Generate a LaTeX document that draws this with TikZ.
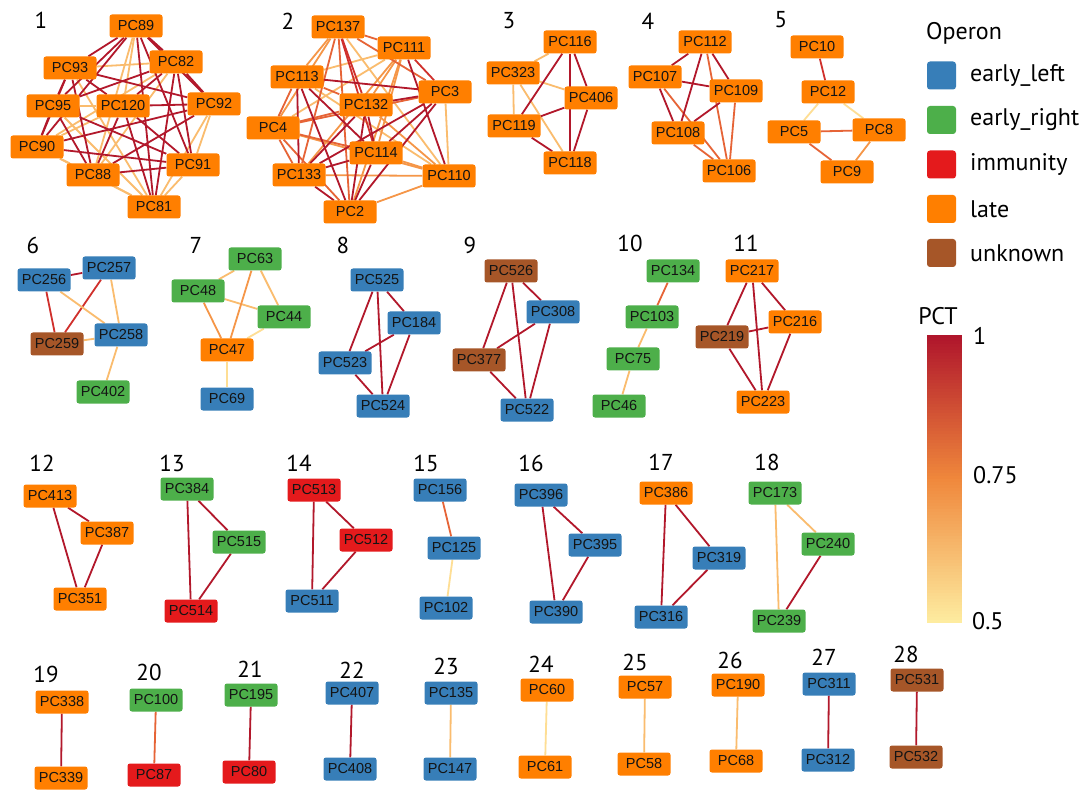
\documentclass[tikz,border=0pt]{standalone}
\usepackage{fontspec}
\setmainfont{PT Sans}
\newfontfamily\arialf{Liberation Sans}
\usetikzlibrary{backgrounds}
\definecolor{cEL}{RGB}{55,126,184}
\definecolor{cER}{RGB}{77,175,74}
\definecolor{cIM}{RGB}{228,26,28}
\definecolor{cLA}{RGB}{255,127,0}
\definecolor{cUN}{RGB}{166,86,40}
\definecolor{k10}{RGB}{178,24,43}
\definecolor{k9}{RGB}{208,48,44}
\definecolor{k8}{RGB}{230,100,55}
\definecolor{k7}{RGB}{245,150,72}
\definecolor{k6}{RGB}{250,188,110}
\definecolor{k5}{RGB}{254,222,148}
\newcommand\mkpc[4]{\node[#1] (p#2) at (#3,#4) {PC#2};}
\newcommand\lks[2]{\foreach \a/\b in {#2}{\draw[#1] (p\a) -- (p\b);}}
\begin{document}
\begin{tikzpicture}[x=1pt,y=-1pt,
  pcn/.style={rectangle, rounded corners=2.5pt, minimum width=53pt, minimum height=23pt, inner sep=0pt, font=\arialf\fontsize{14.5}{15}\selectfont, text=black!92},
  el/.style={pcn, fill=cEL}, er/.style={pcn, fill=cER}, im/.style={pcn, fill=cIM},
  la/.style={pcn, fill=cLA}, un/.style={pcn, fill=cUN},
  num/.style={font=\fontsize{23}{26}\selectfont, inner sep=0pt, text=black},
  leg/.style={font=\fontsize{24}{28}\selectfont, inner sep=0pt, anchor=west, text=black},
  sw/.style={rounded corners=3pt, minimum width=29pt, minimum height=28pt, inner sep=0pt},
  ed/.style={line width=1.8pt},
  q10/.style={ed, draw=k10}, q9/.style={ed, draw=k9}, q8/.style={ed, draw=k8},
  q7/.style={ed, draw=k7}, q6/.style={ed, draw=k6}, q5/.style={ed, draw=k5}]
\useasboundingbox (0,0) rectangle (1092,791);
% cluster numbers
\node[num] (t1) at (41,20) {1};
\node[num] (t2) at (288,21) {2};
\node[num] (t3) at (509,21) {3};
\node[num] (t4) at (648,21) {4};
\node[num] (t5) at (781,20) {5};
\node[num] (t6) at (33,245) {6};
\node[num] (t7) at (196,245) {7};
\node[num] (t8) at (343,245) {8};
\node[num] (t9) at (470,245) {9};
\node[num] (t10) at (630,243) {10};
\node[num] (t11) at (746,243) {11};
\node[num] (t12) at (42,463) {12};
\node[num] (t13) at (172,463) {13};
\node[num] (t14) at (299,463) {14};
\node[num] (t15) at (426,463) {15};
\node[num] (t16) at (531,463) {16};
\node[num] (t17) at (661,462) {17};
\node[num] (t18) at (767,462) {18};
\node[num] (t19) at (46,674) {19};
\node[num] (t20) at (149,672) {20};
\node[num] (t21) at (250,669) {21};
\node[num] (t22) at (352,670) {22};
\node[num] (t23) at (446,666) {23};
\node[num] (t24) at (541,664) {24};
\node[num] (t25) at (635,662) {25};
\node[num] (t26) at (730,660) {26};
\node[num] (t27) at (824,657) {27};
\node[num] (t28) at (906,654) {28};
% cluster 1
\mkpc{la}{89}{136}{26}
\mkpc{la}{93}{70}{68}
\mkpc{la}{82}{176}{62}
\mkpc{la}{95}{53}{106}
\mkpc{la}{120}{123}{106}
\mkpc{la}{92}{214}{104}
\mkpc{la}{90}{37}{147}
\mkpc{la}{91}{193}{165}
\mkpc{la}{88}{93}{175}
\mkpc{la}{81}{154}{207}
% cluster 2
\mkpc{la}{137}{338}{27}
\mkpc{la}{111}{404}{48}
\mkpc{la}{113}{297}{77}
\mkpc{la}{3}{445}{92}
\mkpc{la}{132}{366}{105}
\mkpc{la}{4}{273}{128}
\mkpc{la}{114}{376}{153}
\mkpc{la}{133}{299}{175}
\mkpc{la}{110}{449}{176}
\mkpc{la}{2}{350}{212}
% cluster 3
\mkpc{la}{116}{570}{42}
\mkpc{la}{323}{513}{73}
\mkpc{la}{406}{591}{98}
\mkpc{la}{119}{514}{126}
\mkpc{la}{118}{570}{163}
% cluster 4
\mkpc{la}{112}{705}{42}
\mkpc{la}{107}{655}{77}
\mkpc{la}{109}{736}{91}
\mkpc{la}{108}{678}{133}
\mkpc{la}{106}{729}{171}
% cluster 5
\mkpc{la}{10}{817}{47}
\mkpc{la}{12}{828}{92}
\mkpc{la}{5}{794}{132}
\mkpc{la}{8}{879}{130}
\mkpc{la}{9}{847}{172}
% cluster 6
\mkpc{el}{256}{44}{280}
\mkpc{el}{257}{109}{268}
\mkpc{el}{258}{121}{335}
\mkpc{un}{259}{57}{344}
\mkpc{er}{402}{103}{392}
% cluster 7
\mkpc{er}{63}{255}{259}
\mkpc{er}{48}{198}{291}
\mkpc{er}{44}{284}{317}
\mkpc{la}{47}{227}{350}
\mkpc{el}{69}{227}{399}
% cluster 8
\mkpc{el}{525}{377}{280}
\mkpc{el}{184}{414}{323}
\mkpc{el}{523}{345}{363}
\mkpc{el}{524}{383}{406}
% cluster 9
\mkpc{un}{526}{511}{271}
\mkpc{el}{308}{553}{312}
\mkpc{un}{377}{479}{360}
\mkpc{el}{522}{527}{410}
% cluster 10
\mkpc{er}{134}{673}{271}
\mkpc{er}{103}{652}{317}
\mkpc{er}{75}{633}{359}
\mkpc{er}{46}{619}{406}
% cluster 11
\mkpc{la}{217}{752}{271}
\mkpc{la}{216}{795}{322}
\mkpc{un}{219}{722}{337}
\mkpc{la}{223}{763}{402}
% cluster 12
\mkpc{la}{413}{50}{496}
\mkpc{la}{387}{107}{533}
\mkpc{la}{351}{80}{599}
% cluster 13
\mkpc{er}{384}{187}{489}
\mkpc{er}{515}{239}{542}
\mkpc{im}{514}{191}{611}
% cluster 14
\mkpc{im}{513}{314}{490}
\mkpc{im}{512}{366}{540}
\mkpc{el}{511}{312}{601}
% cluster 15
\mkpc{el}{156}{440}{490}
\mkpc{el}{125}{454}{548}
\mkpc{el}{102}{446}{608}
% cluster 16
\mkpc{el}{396}{541}{495}
\mkpc{el}{395}{595}{545}
\mkpc{el}{390}{556}{612}
% cluster 17
\mkpc{la}{386}{666}{493}
\mkpc{el}{319}{719}{558}
\mkpc{el}{316}{661}{617}
% cluster 18
\mkpc{er}{173}{775}{493}
\mkpc{er}{240}{828}{544}
\mkpc{er}{239}{779}{621}
% bottom row
\mkpc{la}{338}{62}{702}
\mkpc{la}{339}{61}{778}
\mkpc{er}{100}{156}{700}
\mkpc{im}{87}{154}{775}
\mkpc{er}{195}{251}{695}
\mkpc{im}{80}{249}{772}
\mkpc{el}{407}{352}{693}
\mkpc{el}{408}{350}{769}
\mkpc{el}{135}{451}{693}
\mkpc{el}{147}{450}{769}
\mkpc{la}{60}{547}{690}
\mkpc{la}{61}{545}{767}
\mkpc{la}{57}{645}{687}
\mkpc{la}{58}{644}{764}
\mkpc{la}{190}{738}{685}
\mkpc{la}{68}{736}{761}
\mkpc{el}{311}{829}{684}
\mkpc{el}{312}{828}{760}
\mkpc{un}{531}{917}{680}
\mkpc{un}{532}{916}{757}
% legend
\node[leg] (lt) at (926,33) {Operon};
\node[sw, fill=cEL] (s1) at (941.5,75.5) {};
\node[sw, fill=cER] (s2) at (941.5,120) {};
\node[sw, fill=cIM] (s3) at (941.5,164.5) {};
\node[sw, fill=cLA] (s4) at (941.5,209) {};
\node[sw, fill=cUN] (s5) at (941.5,253) {};
\node[leg] (l1) at (970,75.5) {early\_left};
\node[leg] (l2) at (970,120) {early\_right};
\node[leg] (l3) at (970,164.5) {immunity};
\node[leg] (l4) at (970,209) {late};
\node[leg] (l5) at (970,253) {unknown};
\node[leg, anchor=center] (pct) at (938,316) {PCT};
\node[leg] (v1) at (973,336) {1};
\node[leg] (v2) at (973,475) {0.75};
\node[leg] (v3) at (972,621) {0.5};
\begin{scope}[on background layer]
\fill[white] (0,0) rectangle (1092,791);
% colour bar as stacked horizontal strokes
\foreach \i in {0,...,95}{
  \pgfmathsetmacro\ff{\i/95}
  \pgfmathtruncatemacro\cR{ifthenelse(\ff<0.5, 176+128*\ff, 240+28*(\ff-0.5))}
  \pgfmathtruncatemacro\cG{ifthenelse(\ff<0.5, 22+228*\ff, 136+200*(\ff-0.5))}
  \pgfmathtruncatemacro\cB{ifthenelse(\ff<0.5, 44+32*\ff, 60+200*(\ff-0.5))}
  \definecolor{stripc}{RGB}{\cR,\cG,\cB}
  \draw[line width=3.4pt, draw=stripc] (927,{336.5+3*\i}) -- (962,{336.5+3*\i});
}
% cluster 1
\lks{q6}{89/120,89/88,93/82,93/81,82/90,82/88,95/120,95/81,120/90,92/91,92/81,90/88,90/81,91/81,88/81}
\lks{q10}{89/93,89/82,89/95,89/92,89/90,89/91,89/81,93/95,93/120,93/92,93/90,93/88,82/95,82/120,82/92,82/91,82/81,95/90,95/91,95/88,120/92,120/91,120/88,120/81,92/90,92/88,90/91,91/88}
% cluster 2
\lks{q6}{137/110,111/113,111/4,113/110,3/110}
\lks{q7}{137/113,137/4,111/132,111/114,111/133,111/2,132/110,4/110,114/110,133/110,110/2}
\lks{q8}{137/111,137/133,137/2,137/3,113/132,113/4,3/4,132/4,4/114,4/133,4/2}
\lks{q9}{137/132,137/114,111/3}
\lks{q10}{111/110,113/3,113/114,113/133,113/2,3/132,3/114,3/133,3/2,132/114,132/133,132/2,114/133,114/2,133/2}
% cluster 3
\lks{q6}{116/323,323/406,323/119,323/118}
\lks{q10}{116/406,116/118,116/119,119/406,119/118,406/118}
% cluster 4
\lks{q8}{112/106,107/106,109/106,108/106}
\lks{q10}{112/107,112/108,112/109,107/109,107/108,109/108}
% cluster 5
\lks{q9}{10/12}
\lks{q5}{12/5,12/8}
\lks{q8}{5/8,5/9}
\lks{q7}{8/9}
% cluster 6
\lks{q10}{256/257}
\lks{q9}{256/259,257/259}
\lks{q6}{256/258,257/258,259/258,258/402}
% cluster 7
\lks{q6}{63/48,63/44,48/44}
\lks{q7}{63/47,48/47}
\lks{q5}{44/47,47/69}
% cluster 8
\lks{q10}{525/184,525/523,525/524,184/523,184/524,523/524}
% cluster 9
\lks{q10}{526/308,526/377,526/522,308/377,308/522,377/522}
% cluster 10
\lks{q8}{134/103}
\lks{q6}{103/75,75/46}
% cluster 11
\lks{q10}{217/216,217/219,217/223,216/219,216/223,219/223}
% clusters 12-18
\lks{q10}{413/387,413/351,387/351,384/515,384/514,515/514,513/512,513/511,512/511}
\lks{q8}{156/125}
\lks{q5}{125/102}
\lks{q10}{396/395,396/390,395/390,386/319,386/316,319/316,240/239}
\lks{q6}{173/240,173/239}
% bottom row
\lks{q10}{338/339,195/80,407/408,311/312,531/532}
\lks{q8}{100/87}
\lks{q6}{135/147,57/58,190/68}
\lks{q5}{60/61}
\end{scope}
\end{tikzpicture}
\end{document}
